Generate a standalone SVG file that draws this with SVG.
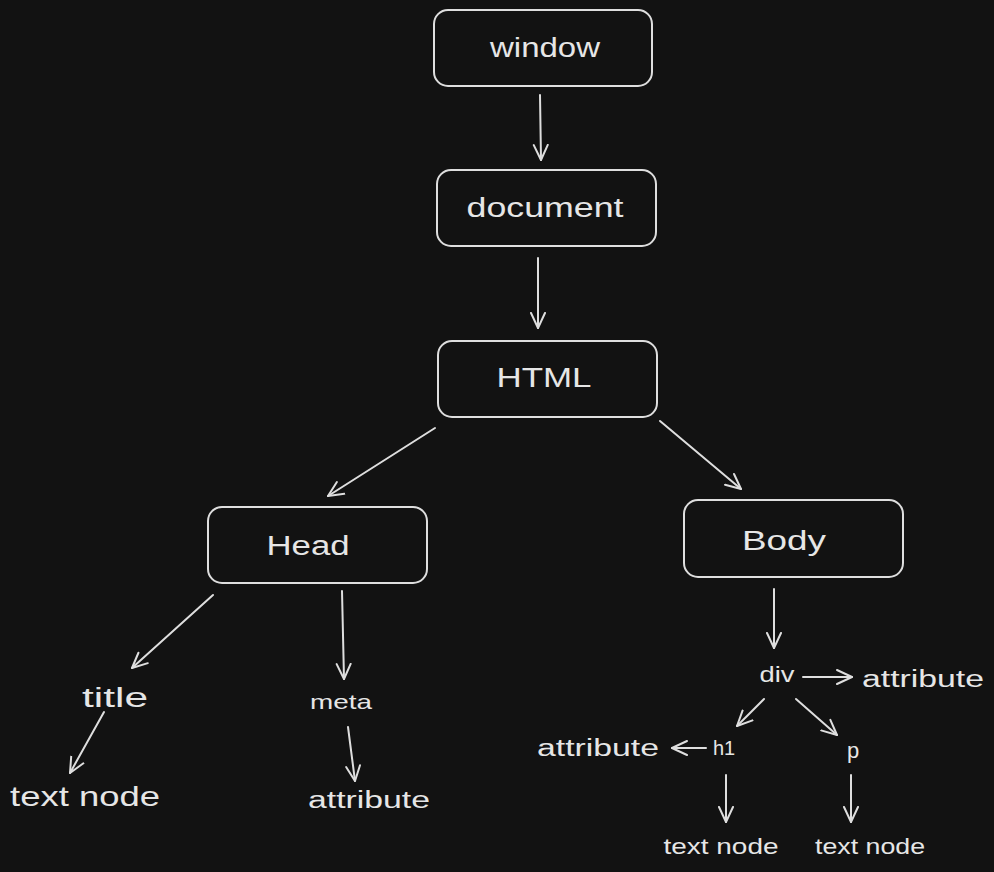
<svg xmlns="http://www.w3.org/2000/svg" width="994" height="872" viewBox="0 0 994 872">
<defs>
<marker id="ah" markerUnits="userSpaceOnUse" markerWidth="30" markerHeight="30" refX="16" refY="10" orient="auto" viewBox="0 0 30 20">
<path d="M1 3 L16 10 L1 17" fill="none" stroke="#dedede" stroke-width="2" stroke-linecap="round" stroke-linejoin="round"/>
</marker>
</defs>
<style>
.box{fill:#121212;stroke:#dedede;stroke-width:2}
.t{fill:#e6e6e6;font-family:"Liberation Sans","DejaVu Sans",sans-serif;text-anchor:middle;dominant-baseline:central}
.c{fill:none;stroke:#dedede;stroke-width:2;stroke-linecap:round;marker-end:url(#ah)}
</style>
<rect width="994" height="872" fill="#121212"/>
<g id="connectors">
<line class="c" x1="540" y1="95" x2="541" y2="160"/>
<line class="c" x1="538" y1="258" x2="538" y2="328"/>
<line class="c" x1="435" y1="428" x2="328" y2="496"/>
<line class="c" x1="660" y1="421" x2="741" y2="489"/>
<line class="c" x1="213" y1="595" x2="132" y2="668"/>
<line class="c" x1="342" y1="591" x2="344" y2="679"/>
<line class="c" x1="104" y1="712" x2="70" y2="773"/>
<line class="c" x1="348" y1="727" x2="355" y2="781"/>
<line class="c" x1="774" y1="589" x2="774" y2="648"/>
<line class="c" x1="803" y1="677" x2="852" y2="677"/>
<line class="c" x1="764" y1="699" x2="737" y2="726"/>
<line class="c" x1="796" y1="699" x2="837" y2="735"/>
<line class="c" x1="706" y1="748" x2="672" y2="748"/>
<line class="c" x1="726" y1="775" x2="726" y2="822"/>
<line class="c" x1="851" y1="775" x2="851" y2="822"/>
</g>
<g id="window"><rect class="box" x="434" y="10" width="218" height="76" rx="14"/><text class="t" x="545" y="48" font-size="27" textLength="110" lengthAdjust="spacingAndGlyphs">window</text></g>
<g id="document"><rect class="box" x="437" y="170" width="219" height="76" rx="14"/><text class="t" x="545" y="208" font-size="27" textLength="157" lengthAdjust="spacingAndGlyphs">document</text></g>
<g id="html"><rect class="box" x="438" y="341" width="219" height="76" rx="14"/><text class="t" x="544" y="378" font-size="27" textLength="95" lengthAdjust="spacingAndGlyphs">HTML</text></g>
<g id="head"><rect class="box" x="208" y="507" width="219" height="76" rx="14"/><text class="t" x="308" y="546" font-size="27" textLength="83" lengthAdjust="spacingAndGlyphs">Head</text></g>
<g id="body"><rect class="box" x="684" y="500" width="219" height="77" rx="14"/><text class="t" x="784" y="540" font-size="28" textLength="84" lengthAdjust="spacingAndGlyphs">Body</text></g>
<g id="title"><text class="t" x="115" y="698" font-size="27" textLength="66" lengthAdjust="spacingAndGlyphs">title</text></g>
<g id="textnode1"><text class="t" x="85" y="796" font-size="28" textLength="150" lengthAdjust="spacingAndGlyphs">text node</text></g>
<g id="meta"><text class="t" x="341" y="701" font-size="21" textLength="62" lengthAdjust="spacingAndGlyphs">meta</text></g>
<g id="attribute1"><text class="t" x="369" y="800" font-size="23" textLength="122" lengthAdjust="spacingAndGlyphs">attribute</text></g>
<g id="div"><text class="t" x="777" y="674" font-size="22" textLength="35" lengthAdjust="spacingAndGlyphs">div</text></g>
<g id="attribute2"><text class="t" x="923" y="679" font-size="23" textLength="122" lengthAdjust="spacingAndGlyphs">attribute</text></g>
<g id="attribute3"><text class="t" x="598" y="748" font-size="23" textLength="122" lengthAdjust="spacingAndGlyphs">attribute</text></g>
<g id="h1"><text class="t" x="724" y="748" font-size="20">h1</text></g>
<g id="p"><text class="t" x="853" y="750" font-size="22">p</text></g>
<g id="textnode2"><text class="t" x="721" y="846" font-size="22" textLength="115" lengthAdjust="spacingAndGlyphs">text node</text></g>
<g id="textnode3"><text class="t" x="870" y="846" font-size="22" textLength="110" lengthAdjust="spacingAndGlyphs">text node</text></g>
</svg>
